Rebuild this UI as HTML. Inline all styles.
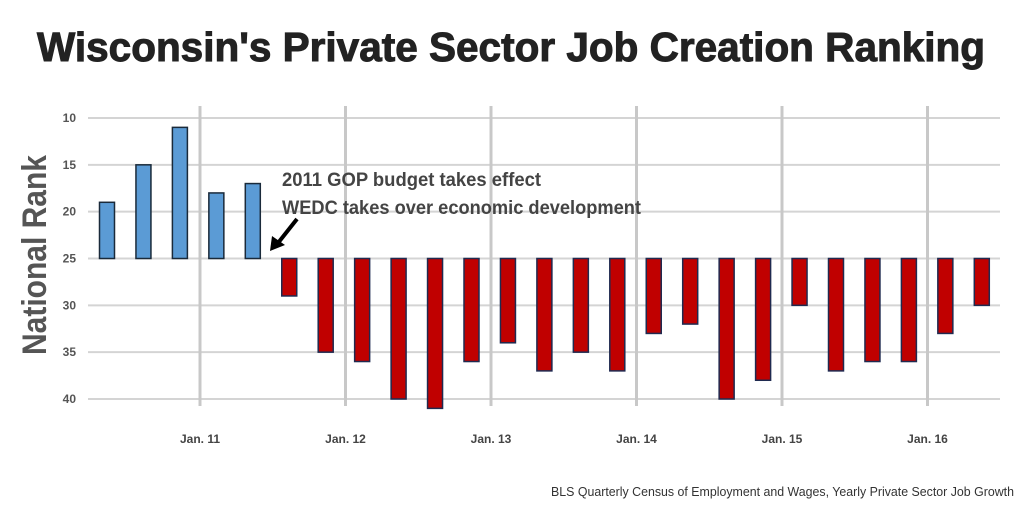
<!DOCTYPE html>
<html><head><meta charset="utf-8"><style>
body{margin:0;width:1024px;height:512px;background:#fff;overflow:hidden;font-family:"Liberation Sans",sans-serif}
</style></head><body>
<svg width="1024" height="512" id="c">
<text x="37" y="61" font-size="41" font-weight="bold" fill="#222" textLength="948" lengthAdjust="spacingAndGlyphs" stroke="#222" stroke-width="1">Wisconsin's Private Sector Job Creation Ranking</text>
<text x="46" y="255" text-anchor="middle" font-size="34" font-weight="bold" fill="#555" textLength="200" lengthAdjust="spacingAndGlyphs" transform="rotate(-90 46 255)">National Rank</text>
<g id="grid"></g><g id="bars"></g><g id="labels"></g>
<text x="282" y="186" font-size="19" font-weight="bold" fill="#444" textLength="259" lengthAdjust="spacingAndGlyphs">2011 GOP budget takes effect</text>
<text x="282" y="214" font-size="19" font-weight="bold" fill="#444" textLength="359" lengthAdjust="spacingAndGlyphs">WEDC takes over economic development</text>
<g><line x1="297" y1="219" x2="278" y2="243" stroke="#000" stroke-width="4"/><polygon points="270,251 272,236 285,245" fill="#000"/></g>
<text x="551" y="496" font-size="13" fill="#333" textLength="463" lengthAdjust="spacingAndGlyphs">BLS Quarterly Census of Employment and Wages, Yearly Private Sector Job Growth</text>
</svg>
<script>
const ranks=[19,15,11,18,17,29,35,36,40,41,36,34,37,35,37,33,32,40,38,30,37,36,36,33,30];
const yTicks=[10,15,20,25,30,35,40];
const xLabels=["Jan. 11","Jan. 12","Jan. 13","Jan. 14","Jan. 15","Jan. 16"];
const baseline=25, blueCount=5;
const ns="http://www.w3.org/2000/svg";
const y=v=>118+(v-10)*(399-118)/30;
const xb=i=>107+i*36.45;
const xl=i=>200+i*145.5;
function mk(t,a,p){const e=document.createElementNS(ns,t);for(const k in a)e.setAttribute(k,a[k]);p.appendChild(e);return e;}
const g=document.getElementById('grid'),b=document.getElementById('bars'),l=document.getElementById('labels');
yTicks.forEach(v=>{
 const ln=mk('line',{x1:88,x2:1000,y1:y(v),y2:y(v),stroke:'#d4d4d4','stroke-width':2},g);
 
 
 const t=mk('text',{x:76,y:y(v)+4,'text-anchor':'end','font-size':12,'font-weight':'bold',fill:'#555'},l);
 t.textContent=v;
 
 
});
xLabels.forEach((s,i)=>{
 const ln=mk('line',{x1:xl(i),x2:xl(i),y1:106,y2:406,stroke:'#c8c8c8','stroke-width':3},g);
 
 
 const t=mk('text',{x:xl(i),y:443,'text-anchor':'middle','font-size':12,'font-weight':'bold',fill:'#444'},l);
 t.textContent=s;
 
 
});
ranks.forEach((v,i)=>{
 const y1=Math.min(y(v),y(baseline)),h=Math.abs(y(v)-y(baseline));
 const r=mk('rect',{x:xb(i)-7.5,y:y1,width:15,height:h,fill:i<blueCount?'#5b9bd5':'#c00000',stroke:i<blueCount?'#1a2a3a':'#1f2a50','stroke-width':1.5},b);
 
 
});
</script>
</body></html>
